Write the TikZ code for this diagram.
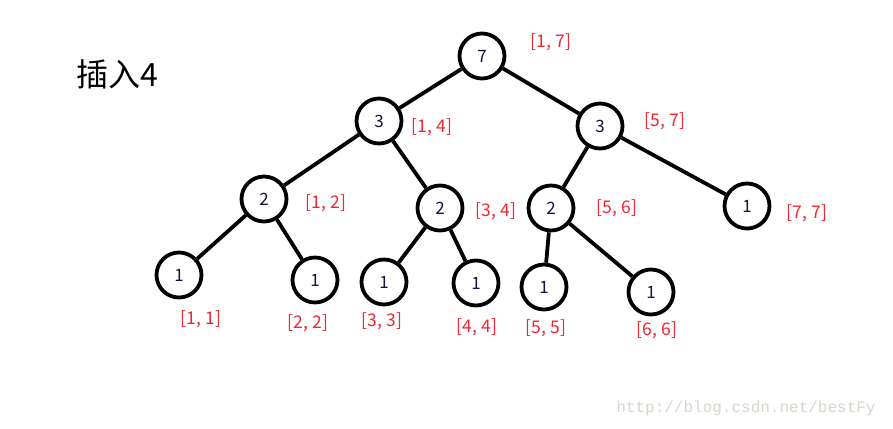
\documentclass[tikz,border=0pt]{standalone}
\usepackage{fontspec}
\setmainfont{Noto Sans CJK SC}
\newfontfamily\wmfont{Liberation Mono}
\definecolor{lblred}{RGB}{240,40,50}
\definecolor{numcol}{RGB}{20,20,60}
\definecolor{wmgray}{RGB}{215,215,205}
\begin{document}
\begin{tikzpicture}[x=1pt,y=-1pt,
  tn/.style={circle,draw=black,line width=3.8pt,minimum size=45pt,inner sep=0pt,font=\fontsize{17}{17}\selectfont,text=numcol},
  lbl/.style={text=lblred,font=\fontsize{17.5}{17.5}\selectfont,inner sep=0pt},
  edge/.style={line width=3.8pt,black}]
\useasboundingbox (0,0) rectangle (893,428);
\fill[white] (0,0) rectangle (893,428);
\node[font=\fontsize{32}{32}\selectfont,inner sep=0pt] (title) at (117,74) {插入4};
\node[tn] (r) at (482,56) {7};
\node[tn] (a) at (379,121) {3};
\node[tn] (b) at (600,126) {3};
\node[tn] (c) at (264,199) {2};
\node[tn] (d) at (440,208) {2};
\node[tn] (e) at (551,208) {2};
\node[tn] (f) at (747,206) {1};
\node[tn] (l1) at (179,275) {1};
\node[tn] (l2) at (315,280) {1};
\node[tn] (l3) at (384,282) {1};
\node[tn] (l4) at (476,283) {1};
\node[tn] (l5) at (544,287) {1};
\node[tn] (l6) at (651,292) {1};
\draw[edge] (r) -- (a);
\draw[edge] (r) -- (b);
\draw[edge] (a) -- (c);
\draw[edge] (a) -- (d);
\draw[edge] (b) -- (e);
\draw[edge] (b) -- (f);
\draw[edge] (c) -- (l1);
\draw[edge] (c) -- (l2);
\draw[edge] (d) -- (l3);
\draw[edge] (d) -- (l4);
\draw[edge] (e) -- (l5);
\draw[edge] (e) -- (l6);
\node[lbl] (t17) at (551,42) {[1, 7]};
\node[lbl] (t14) at (432,127) {[1, 4]};
\node[lbl] (t57) at (665,121) {[5, 7]};
\node[lbl] (t12) at (326,203) {[1, 2]};
\node[lbl] (t34) at (496,211) {[3, 4]};
\node[lbl] (t56) at (617,208) {[5, 6]};
\node[lbl] (t77) at (807,213) {[7, 7]};
\node[lbl] (t11) at (201,319) {[1, 1]};
\node[lbl] (t22) at (308,323) {[2, 2]};
\node[lbl] (t33) at (382,321) {[3, 3]};
\node[lbl] (t44) at (477,327) {[4, 4]};
\node[lbl] (t55) at (546,328) {[5, 5]};
\node[lbl] (t66) at (657,330) {[6, 6]};
\node[text=wmgray,font=\wmfont\fontsize{16}{16}\selectfont,inner sep=0pt] (wm) at (746,408) {http://blog.csdn.net/bestFy};
\end{tikzpicture}
\end{document}
